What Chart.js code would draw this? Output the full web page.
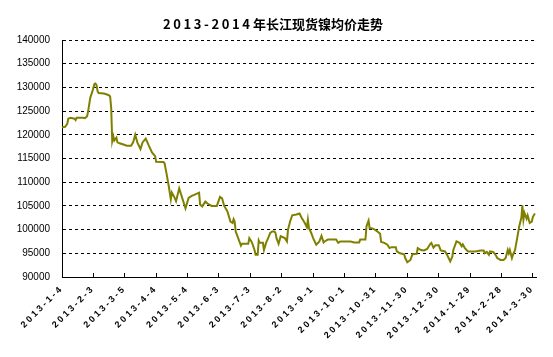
<!DOCTYPE html>
<html><head><meta charset="utf-8">
<script src="https://cdn.jsdelivr.net/npm/chart.js@4/dist/chart.umd.min.js"></script>
<style>html,body{margin:0;padding:0;background:#fff}</style>
</head><body>
<canvas id="c" width="553" height="357"></canvas>
<script>
const titleYears = '2013-2014';
const titleText = '年长江现货镍均价走势';
const tickLabels = ['2013-1-4','2013-2-3','2013-3-5','2013-4-4','2013-5-4','2013-6-3','2013-7-3','2013-8-2','2013-9-1','2013-10-1','2013-10-31','2013-11-30','2013-12-30','2014-1-29','2014-2-28','2014-3-30'];
// days since 2013-1-4
const dayOffsets = [0,3,5,6,8,12,13,14,20,22,24,25,27,29,30,31,32,33,34,35,40,43,45,46,47,48,49,50,52,53,55,58,62,66,68,70,72,75,77,80,83,86,89,90,97,98,100,102,104,105,107,109,112,114,118,121,124,128,131,132,134,137,139,143,148,151,153,155,158,161,163,164,165,166,168,171,172,178,179,181,182,184,185,187,188,189,192,193,195,197,199,201,203,204,205,207,209,213,215,216,218,220,224,227,229,232,234,235,236,238,240,243,246,248,250,251,254,262,264,266,276,279,284,285,290,291,293,294,296,299,302,304,305,308,311,313,315,319,320,323,327,328,330,333,335,339,340,343,346,349,352,353,355,357,360,362,366,368,371,373,374,377,380,382,383,385,388,395,400,403,404,406,408,409,412,414,416,419,422,424,426,427,428,430,431,433,435,437,439,440,441,442,444,445,447,449,450,452];
const prices = [121600,121700,122300,123400,123600,123400,123100,123600,123600,123500,123900,125000,127800,129100,129900,130700,130800,130500,129200,128800,128700,128500,128300,128100,125700,118700,119700,118800,119400,118400,118200,118000,117700,117700,118400,120000,118400,117000,118400,119200,117700,116300,115500,114300,114250,114000,111700,109200,106400,107800,107000,106000,108700,107300,104500,106700,107100,107500,107800,105300,104900,105900,105500,105000,105000,106900,106600,105000,103900,101700,101400,102200,101700,99600,98400,96600,97000,97000,98200,97500,97000,95700,94700,94700,97700,97200,97200,95700,97200,98200,99300,99600,99600,99300,98200,97000,98600,98200,97500,100000,101700,103000,103200,103400,102500,101400,100500,102100,100300,99400,98200,96800,97500,98700,97300,97500,97900,97900,97200,97500,97500,97300,97300,97900,97900,100700,101900,100300,100300,100000,99500,99100,97400,97200,96800,96100,96300,96300,95400,95000,94800,94000,93100,93600,94800,94900,96100,95700,95600,95900,97000,97200,96200,96700,96700,95600,95400,94700,93300,94300,95700,97500,97200,96500,96900,96100,95400,95400,95600,95600,95000,95300,94700,95400,95300,94800,94000,93600,93600,94000,95700,95000,95700,94000,94700,95700,98200,100700,102500,105100,102100,103500,102300,103000,101400,101700,102700,103400];
const yMin = 90000, yMax = 140000, yStep = 5000;
const dayStep = 30, lastDay = 453;

const styling = {
  id: 'styling',
  beforeDraw(chart) {
    const xs = chart.scales.x;
    if (!xs._spaced) {
      const orig = xs.drawLabels;
      xs.drawLabels = function (ca) {
        this.ctx.save();
        this.ctx.letterSpacing = '2.5px';
        orig.call(this, ca);
        this.ctx.restore();
      };
      xs._spaced = true;
    }
  },
  afterDraw(chart) {
    const c = chart.ctx;
    c.save();
    c.font = 'bold 13px "Noto Sans CJK SC"';
    c.fillStyle = '#000';
    c.textAlign = 'left';
    c.textBaseline = 'middle';
    c.letterSpacing = '2.6px';
    c.fillText(titleYears, 163, 24.5);
    c.letterSpacing = '0px';
    c.fillText(titleText, 253, 24.5);
    c.restore();
  }
};

new Chart(document.getElementById('c'), {
  type: 'line',
  data: {
    datasets: [{
      data: dayOffsets.map((d, i) => ({ x: d, y: prices[i] })),
      borderColor: '#808000',
      borderWidth: 2,
      pointRadius: 0,
      fill: false,
      tension: 0
    }]
  },
  options: {
    responsive: false,
    animation: false,
    devicePixelRatio: 1,
    layout: { padding: { top: 40, right: 17, left: 0, bottom: 0 } },
    plugins: { legend: { display: false }, tooltip: { enabled: false }, title: { display: false } },
    scales: {
      x: {
        type: 'linear',
        min: 0,
        max: lastDay,
        afterFit: s => { s.height = 80; },
        grid: { drawOnChartArea: false, drawTicks: true, tickLength: -4, tickColor: '#000' },
        border: { display: true, color: '#000', width: 1 },
        ticks: {
          stepSize: dayStep,
          includeBounds: false,
          autoSkip: false,
          minRotation: 45,
          maxRotation: 45,
          padding: 10,
          color: '#000',
          font: { family: '"Liberation Sans", Arial', size: 9, weight: 'bold' },
          callback: v => tickLabels[Math.round(v / dayStep)] ?? ''
        }
      },
      y: {
        min: yMin,
        max: yMax,
        afterFit: s => { s.width = 62; },
        grid: { color: '#000', lineWidth: 1, drawTicks: false },
        border: { display: true, color: '#000', width: 1, dash: [3, 3] },
        ticks: {
          stepSize: yStep,
          padding: 12,
          color: '#000',
          font: { family: '"Liberation Sans", Arial', size: 10 },
          callback: v => String(v)
        }
      }
    }
  },
  plugins: [styling]
});
</script>
</body></html>
